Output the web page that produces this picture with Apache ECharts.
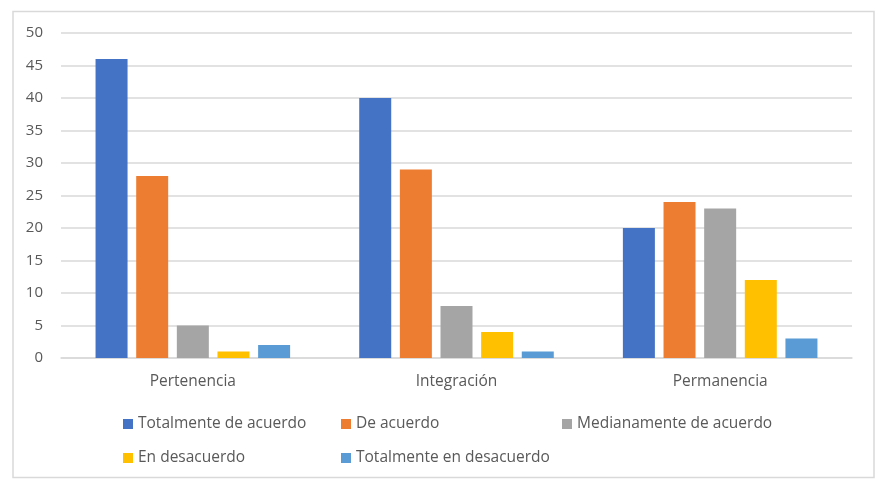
<!DOCTYPE html>
<html lang="es">
<head>
    <meta charset="utf-8">
    <style>
        html, body { margin: 0; padding: 0; background: #fff; }
        #chart { width: 891px; height: 487px; }
    </style>
</head>
<body>
<div id="chart"></div>
<script src="https://cdn.jsdelivr.net/npm/echarts@6.0.0/dist/echarts.min.js"></script>
<script type="text/javascript">

var categories = ['Pertenencia', 'Integración', 'Permanencia'];
var seriesNames = ['Totalmente de acuerdo', 'De acuerdo', 'Medianamente de acuerdo', 'En desacuerdo', 'Totalmente en desacuerdo'];
var totalmenteDeAcuerdo = [46, 40, 20];
var deAcuerdo = [28, 29, 24];
var medianamente = [5, 8, 23];
var enDesacuerdo = [1, 4, 12];
var totalmenteEnDesacuerdo = [2, 1, 3];
var colors = ['#4472C4', '#ED7D31', '#A5A5A5', '#FFC000', '#5B9BD5'];

var allValues = [totalmenteDeAcuerdo, deAcuerdo, medianamente, enDesacuerdo, totalmenteEnDesacuerdo];
var font = 'Open Sans';

// legend grid: 3 columns, 2 rows (like the Excel layout)
var legendPos = [[123, 416], [341, 416], [562, 416], [123, 450], [341, 450]];

var chart = echarts.init(document.getElementById('chart'));
var option = {
    animation: false,
    color: colors,
    graphic: [{
        type: 'rect',
        shape: { x: 13, y: 11.5, width: 861, height: 466 },
        style: { fill: 'none', stroke: '#d9d9d9', lineWidth: 1.5 },
        silent: true
    }],
    grid: { left: 61, right: 39, top: 33, bottom: 129 },
    legend: seriesNames.map(function (name, i) {
        return {
            data: [name],
            left: legendPos[i][0],
            top: legendPos[i][1],
            padding: 0,
            itemWidth: 10,
            itemHeight: 10,
            icon: 'rect',
            textStyle: { color: '#595959', fontSize: 15.5, fontFamily: font }
        };
    }),
    xAxis: {
        type: 'category',
        data: categories,
        axisTick: { show: false },
        axisLine: { lineStyle: { color: '#d9d9d9', width: 1.5 } },
        axisLabel: { color: '#595959', fontSize: 15.5, fontFamily: font, margin: 16 }
    },
    yAxis: {
        type: 'value',
        min: 0,
        max: 50,
        interval: 5,
        axisLine: { show: false },
        axisTick: { show: false },
        splitLine: { lineStyle: { color: '#d9d9d9', width: 1.5 } },
        axisLabel: { color: '#595959', fontSize: 15, fontFamily: font, margin: 18 }
    },
    series: seriesNames.map(function (name, i) {
        return {
            name: name,
            type: 'bar',
            data: allValues[i],
            barWidth: 32,
            barGap: '27%'
        };
    })
};
chart.setOption(option);

</script>
</body>
</html>
